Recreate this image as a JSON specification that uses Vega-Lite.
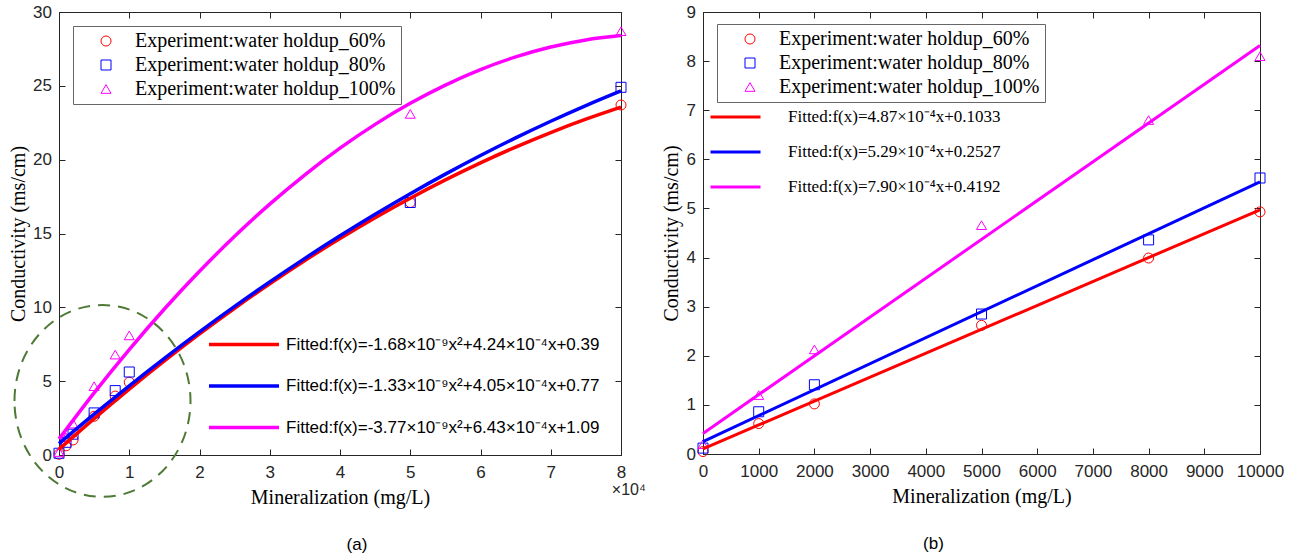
{
  "$schema": "https://vega.github.io/schema/vega-lite/v6.json",
  "padding": {"left": 7, "top": 2, "right": 5, "bottom": 0},
  "background": "white",
  "spacing": 14,
  "resolve": {
    "scale": {"color": "independent", "stroke": "independent", "shape": "independent"},
    "legend": {"color": "independent", "stroke": "independent", "shape": "independent"}
  },
  "datasets": {
    "pts": [
      {"x": 0, "y": 0.05, "s": "Experiment:water holdup_60%"},
      {"x": 1000, "y": 0.62, "s": "Experiment:water holdup_60%"},
      {"x": 2000, "y": 1.02, "s": "Experiment:water holdup_60%"},
      {"x": 5000, "y": 2.62, "s": "Experiment:water holdup_60%"},
      {"x": 8000, "y": 3.99, "s": "Experiment:water holdup_60%"},
      {"x": 10000, "y": 4.93, "s": "Experiment:water holdup_60%"},
      {"x": 50000, "y": 17.1, "s": "Experiment:water holdup_60%"},
      {"x": 80000, "y": 23.7, "s": "Experiment:water holdup_60%"},
      {"x": 0, "y": 0.12, "s": "Experiment:water holdup_80%"},
      {"x": 1000, "y": 0.86, "s": "Experiment:water holdup_80%"},
      {"x": 2000, "y": 1.41, "s": "Experiment:water holdup_80%"},
      {"x": 5000, "y": 2.85, "s": "Experiment:water holdup_80%"},
      {"x": 8000, "y": 4.36, "s": "Experiment:water holdup_80%"},
      {"x": 10000, "y": 5.62, "s": "Experiment:water holdup_80%"},
      {"x": 50000, "y": 17.1, "s": "Experiment:water holdup_80%"},
      {"x": 80000, "y": 24.9, "s": "Experiment:water holdup_80%"},
      {"x": 0, "y": 0.2, "s": "Experiment:water holdup_100%"},
      {"x": 1000, "y": 1.2, "s": "Experiment:water holdup_100%"},
      {"x": 2000, "y": 2.13, "s": "Experiment:water holdup_100%"},
      {"x": 5000, "y": 4.66, "s": "Experiment:water holdup_100%"},
      {"x": 8000, "y": 6.8, "s": "Experiment:water holdup_100%"},
      {"x": 10000, "y": 8.1, "s": "Experiment:water holdup_100%"},
      {"x": 50000, "y": 23.1, "s": "Experiment:water holdup_100%"},
      {"x": 80000, "y": 28.7, "s": "Experiment:water holdup_100%"}
    ],
    "fitL": [
      {"x": 0, "y": 0.39, "f": "Fitted:f(x)=-1.68×10⁻⁹x²+4.24×10⁻⁴x+0.39"},
      {"x": 5000, "y": 2.468, "f": "Fitted:f(x)=-1.68×10⁻⁹x²+4.24×10⁻⁴x+0.39"},
      {"x": 10000, "y": 4.462, "f": "Fitted:f(x)=-1.68×10⁻⁹x²+4.24×10⁻⁴x+0.39"},
      {"x": 15000, "y": 6.372, "f": "Fitted:f(x)=-1.68×10⁻⁹x²+4.24×10⁻⁴x+0.39"},
      {"x": 20000, "y": 8.198, "f": "Fitted:f(x)=-1.68×10⁻⁹x²+4.24×10⁻⁴x+0.39"},
      {"x": 25000, "y": 9.94, "f": "Fitted:f(x)=-1.68×10⁻⁹x²+4.24×10⁻⁴x+0.39"},
      {"x": 30000, "y": 11.598, "f": "Fitted:f(x)=-1.68×10⁻⁹x²+4.24×10⁻⁴x+0.39"},
      {"x": 35000, "y": 13.172, "f": "Fitted:f(x)=-1.68×10⁻⁹x²+4.24×10⁻⁴x+0.39"},
      {"x": 40000, "y": 14.662, "f": "Fitted:f(x)=-1.68×10⁻⁹x²+4.24×10⁻⁴x+0.39"},
      {"x": 45000, "y": 16.068, "f": "Fitted:f(x)=-1.68×10⁻⁹x²+4.24×10⁻⁴x+0.39"},
      {"x": 50000, "y": 17.39, "f": "Fitted:f(x)=-1.68×10⁻⁹x²+4.24×10⁻⁴x+0.39"},
      {"x": 55000, "y": 18.628, "f": "Fitted:f(x)=-1.68×10⁻⁹x²+4.24×10⁻⁴x+0.39"},
      {"x": 60000, "y": 19.782, "f": "Fitted:f(x)=-1.68×10⁻⁹x²+4.24×10⁻⁴x+0.39"},
      {"x": 65000, "y": 20.852, "f": "Fitted:f(x)=-1.68×10⁻⁹x²+4.24×10⁻⁴x+0.39"},
      {"x": 70000, "y": 21.838, "f": "Fitted:f(x)=-1.68×10⁻⁹x²+4.24×10⁻⁴x+0.39"},
      {"x": 75000, "y": 22.74, "f": "Fitted:f(x)=-1.68×10⁻⁹x²+4.24×10⁻⁴x+0.39"},
      {"x": 80000, "y": 23.558, "f": "Fitted:f(x)=-1.68×10⁻⁹x²+4.24×10⁻⁴x+0.39"},
      {"x": 0, "y": 0.77, "f": "Fitted:f(x)=-1.33×10⁻⁹x²+4.05×10⁻⁴x+0.77"},
      {"x": 5000, "y": 2.762, "f": "Fitted:f(x)=-1.33×10⁻⁹x²+4.05×10⁻⁴x+0.77"},
      {"x": 10000, "y": 4.687, "f": "Fitted:f(x)=-1.33×10⁻⁹x²+4.05×10⁻⁴x+0.77"},
      {"x": 15000, "y": 6.546, "f": "Fitted:f(x)=-1.33×10⁻⁹x²+4.05×10⁻⁴x+0.77"},
      {"x": 20000, "y": 8.338, "f": "Fitted:f(x)=-1.33×10⁻⁹x²+4.05×10⁻⁴x+0.77"},
      {"x": 25000, "y": 10.064, "f": "Fitted:f(x)=-1.33×10⁻⁹x²+4.05×10⁻⁴x+0.77"},
      {"x": 30000, "y": 11.723, "f": "Fitted:f(x)=-1.33×10⁻⁹x²+4.05×10⁻⁴x+0.77"},
      {"x": 35000, "y": 13.316, "f": "Fitted:f(x)=-1.33×10⁻⁹x²+4.05×10⁻⁴x+0.77"},
      {"x": 40000, "y": 14.842, "f": "Fitted:f(x)=-1.33×10⁻⁹x²+4.05×10⁻⁴x+0.77"},
      {"x": 45000, "y": 16.302, "f": "Fitted:f(x)=-1.33×10⁻⁹x²+4.05×10⁻⁴x+0.77"},
      {"x": 50000, "y": 17.695, "f": "Fitted:f(x)=-1.33×10⁻⁹x²+4.05×10⁻⁴x+0.77"},
      {"x": 55000, "y": 19.022, "f": "Fitted:f(x)=-1.33×10⁻⁹x²+4.05×10⁻⁴x+0.77"},
      {"x": 60000, "y": 20.282, "f": "Fitted:f(x)=-1.33×10⁻⁹x²+4.05×10⁻⁴x+0.77"},
      {"x": 65000, "y": 21.476, "f": "Fitted:f(x)=-1.33×10⁻⁹x²+4.05×10⁻⁴x+0.77"},
      {"x": 70000, "y": 22.603, "f": "Fitted:f(x)=-1.33×10⁻⁹x²+4.05×10⁻⁴x+0.77"},
      {"x": 75000, "y": 23.664, "f": "Fitted:f(x)=-1.33×10⁻⁹x²+4.05×10⁻⁴x+0.77"},
      {"x": 80000, "y": 24.658, "f": "Fitted:f(x)=-1.33×10⁻⁹x²+4.05×10⁻⁴x+0.77"},
      {"x": 0, "y": 1.09, "f": "Fitted:f(x)=-3.77×10⁻⁹x²+6.43×10⁻⁴x+1.09"},
      {"x": 5000, "y": 4.211, "f": "Fitted:f(x)=-3.77×10⁻⁹x²+6.43×10⁻⁴x+1.09"},
      {"x": 10000, "y": 7.143, "f": "Fitted:f(x)=-3.77×10⁻⁹x²+6.43×10⁻⁴x+1.09"},
      {"x": 15000, "y": 9.887, "f": "Fitted:f(x)=-3.77×10⁻⁹x²+6.43×10⁻⁴x+1.09"},
      {"x": 20000, "y": 12.442, "f": "Fitted:f(x)=-3.77×10⁻⁹x²+6.43×10⁻⁴x+1.09"},
      {"x": 25000, "y": 14.809, "f": "Fitted:f(x)=-3.77×10⁻⁹x²+6.43×10⁻⁴x+1.09"},
      {"x": 30000, "y": 16.987, "f": "Fitted:f(x)=-3.77×10⁻⁹x²+6.43×10⁻⁴x+1.09"},
      {"x": 35000, "y": 18.977, "f": "Fitted:f(x)=-3.77×10⁻⁹x²+6.43×10⁻⁴x+1.09"},
      {"x": 40000, "y": 20.778, "f": "Fitted:f(x)=-3.77×10⁻⁹x²+6.43×10⁻⁴x+1.09"},
      {"x": 45000, "y": 22.391, "f": "Fitted:f(x)=-3.77×10⁻⁹x²+6.43×10⁻⁴x+1.09"},
      {"x": 50000, "y": 23.815, "f": "Fitted:f(x)=-3.77×10⁻⁹x²+6.43×10⁻⁴x+1.09"},
      {"x": 55000, "y": 25.051, "f": "Fitted:f(x)=-3.77×10⁻⁹x²+6.43×10⁻⁴x+1.09"},
      {"x": 60000, "y": 26.098, "f": "Fitted:f(x)=-3.77×10⁻⁹x²+6.43×10⁻⁴x+1.09"},
      {"x": 65000, "y": 26.957, "f": "Fitted:f(x)=-3.77×10⁻⁹x²+6.43×10⁻⁴x+1.09"},
      {"x": 70000, "y": 27.627, "f": "Fitted:f(x)=-3.77×10⁻⁹x²+6.43×10⁻⁴x+1.09"},
      {"x": 75000, "y": 28.109, "f": "Fitted:f(x)=-3.77×10⁻⁹x²+6.43×10⁻⁴x+1.09"},
      {"x": 80000, "y": 28.402, "f": "Fitted:f(x)=-3.77×10⁻⁹x²+6.43×10⁻⁴x+1.09"}
    ],
    "fitR": [
      {"x": 0, "y": 0.1033, "f": "Fitted:f(x)=4.87×10⁻⁴x+0.1033"},
      {"x": 10000, "y": 4.9733, "f": "Fitted:f(x)=4.87×10⁻⁴x+0.1033"},
      {"x": 0, "y": 0.2527, "f": "Fitted:f(x)=5.29×10⁻⁴x+0.2527"},
      {"x": 10000, "y": 5.5427, "f": "Fitted:f(x)=5.29×10⁻⁴x+0.2527"},
      {"x": 0, "y": 0.4192, "f": "Fitted:f(x)=7.90×10⁻⁴x+0.4192"},
      {"x": 10000, "y": 8.3192, "f": "Fitted:f(x)=7.90×10⁻⁴x+0.4192"}
    ]
  },
  "hconcat": [
    {
      "width": 562,
      "height": 443,
      "title": {"text": "(a)", "orient": "bottom", "font": "Liberation Sans", "fontSize": 17, "fontWeight": "normal", "color": "#000000", "dx": 17, "offset": 30},
      "layer": [
        {
          "data": {"name": "pts"},
          "mark": {"type": "point", "filled": false, "size": 100, "strokeWidth": 1, "opacity": 1},
          "encoding": {
            "x": {"field": "x", "type": "quantitative", "scale": {"domain": [0, 80000], "nice": false, "zero": false},
                  "axis": {"orient": "bottom", "values": [0, 10000, 20000, 30000, 40000, 50000, 60000, 70000, 80000], "labelExpr": "datum.value/10000", "title": "Mineralization (mg/L)", "titlePadding": 7, "labelPadding": 15}},
            "y": {"field": "y", "type": "quantitative", "scale": {"domain": [0, 30], "nice": false, "zero": false},
                  "axis": {"orient": "left", "values": [0, 5, 10, 15, 20, 25, 30], "title": "Conductivity (ms/cm)", "titlePadding": 4, "labelPadding": 13.6}},
            "stroke": {"field": "s", "type": "nominal",
                      "scale": {"domain": ["Experiment:water holdup_60%", "Experiment:water holdup_80%", "Experiment:water holdup_100%"], "range": ["#FF0000", "#0000FF", "#FF00FF"]},
                      "legend": {"title": null, "orient": "none", "legendX": 14, "legendY": 14, "strokeColor": "#666666", "fillColor": "white", "padding": 5, "labelFont": "Liberation Serif", "labelFontSize": 20, "labelColor": "#000000", "labelLimit": 0, "rowPadding": 4, "symbolOffset": 18, "labelOffset": 19, "symbolSize": 100, "symbolStrokeWidth": 1}},
            "shape": {"field": "s", "type": "nominal",
                      "scale": {"domain": ["Experiment:water holdup_60%", "Experiment:water holdup_80%", "Experiment:water holdup_100%"], "range": ["circle", "square", "triangle-up"]},
                      "legend": {"title": null, "orient": "none", "legendX": 14, "legendY": 14, "strokeColor": "#666666", "fillColor": "white", "padding": 5, "labelFont": "Liberation Serif", "labelFontSize": 20, "labelColor": "#000000", "labelLimit": 0, "rowPadding": 4, "symbolOffset": 18, "labelOffset": 19, "symbolSize": 100, "symbolStrokeWidth": 1}}
          }
        },
        {
          "data": {"name": "fitL"},
          "mark": {"type": "line", "strokeWidth": 3.5, "interpolate": "monotone"},
          "encoding": {
            "x": {"field": "x", "type": "quantitative", "scale": {"domain": [0, 80000], "nice": false, "zero": false},
                  "axis": {"orient": "top", "values": [0, 10000, 20000, 30000, 40000, 50000, 60000, 70000, 80000], "labels": false, "domain": false, "title": null}},
            "y": {"field": "y", "type": "quantitative", "scale": {"domain": [0, 30], "nice": false, "zero": false},
                  "axis": {"orient": "right", "values": [0, 5, 10, 15, 20, 25, 30], "labels": false, "domain": false, "title": null}},
            "color": {"field": "f", "type": "nominal",
                      "scale": {"domain": ["Fitted:f(x)=-1.68×10⁻⁹x²+4.24×10⁻⁴x+0.39", "Fitted:f(x)=-1.33×10⁻⁹x²+4.05×10⁻⁴x+0.77", "Fitted:f(x)=-3.77×10⁻⁹x²+6.43×10⁻⁴x+1.09"], "range": ["#FF0000", "#0000FF", "#FF00FF"]},
                      "legend": {"title": null, "orient": "none", "legendX": 165.5, "legendY": 313, "symbolType": "M-2,0H2", "symbolSize": 1225, "symbolStrokeWidth": 3.5, "labelFont": "Liberation Sans", "labelFontSize": 17, "labelColor": "#000000", "labelOffset": 22.5, "rowPadding": 13.5, "labelLimit": 0, "padding": 0}}
          }
        },
        {
          "data": {"values": [{}]},
          "mark": {"type": "text", "text": "×10⁴", "align": "left", "baseline": "middle", "font": "Liberation Sans", "fontSize": 16, "color": "#262626", "clip": false},
          "encoding": {
            "x": {"datum": 78700, "type": "quantitative", "scale": {"domain": [0, 80000], "nice": false, "zero": false}, "axis": null},
            "y": {"datum": -2.4, "type": "quantitative", "scale": {"domain": [0, 30], "nice": false, "zero": false}, "axis": null}
          }
        },
        {
          "data": {"values": [{}]},
          "mark": {"type": "point", "shape": "M-1,0A1,1.09,0,1,1,1,0A1,1.09,0,1,1,-1,0Z", "size": 30976, "filled": false, "stroke": "#4E7A36", "strokeWidth": 2, "strokeDash": [12, 8], "opacity": 1, "clip": false},
          "encoding": {
            "x": {"datum": 6190, "type": "quantitative", "scale": {"domain": [0, 80000], "nice": false, "zero": false}, "axis": null},
            "y": {"datum": 3.66, "type": "quantitative", "scale": {"domain": [0, 30], "nice": false, "zero": false}, "axis": null}
          }
        }
      ]
    },
    {
      "width": 557,
      "height": 442,
      "title": {"text": "(b)", "orient": "bottom", "font": "Liberation Sans", "fontSize": 17, "fontWeight": "normal", "color": "#000000", "dx": -48, "offset": 30},
      "layer": [
        {
          "data": {"name": "pts"},
          "transform": [{"filter": "datum.x <= 10000"}],
          "mark": {"type": "point", "filled": false, "size": 100, "strokeWidth": 1, "opacity": 1},
          "encoding": {
            "x": {"field": "x", "type": "quantitative", "scale": {"domain": [0, 10000], "nice": false, "zero": false},
                  "axis": {"orient": "bottom", "values": [0, 1000, 2000, 3000, 4000, 5000, 6000, 7000, 8000, 9000, 10000], "format": "d", "title": "Mineralization (mg/L)", "titlePadding": 7, "labelPadding": 15}},
            "y": {"field": "y", "type": "quantitative", "scale": {"domain": [0, 9], "nice": false, "zero": false},
                  "axis": {"orient": "left", "values": [0, 1, 2, 3, 4, 5, 6, 7, 8, 9], "title": "Conductivity (ms/cm)", "titlePadding": 4, "labelPadding": 13.6}},
            "stroke": {"field": "s", "type": "nominal",
                      "scale": {"domain": ["Experiment:water holdup_60%", "Experiment:water holdup_80%", "Experiment:water holdup_100%"], "range": ["#FF0000", "#0000FF", "#FF00FF"]},
                      "legend": {"title": null, "orient": "none", "legendX": 14, "legendY": 12, "strokeColor": "#666666", "fillColor": "white", "padding": 5, "labelFont": "Liberation Serif", "labelFontSize": 20, "labelColor": "#000000", "labelLimit": 0, "rowPadding": 4, "symbolOffset": 18, "labelOffset": 19, "symbolSize": 100, "symbolStrokeWidth": 1}},
            "shape": {"field": "s", "type": "nominal",
                      "scale": {"domain": ["Experiment:water holdup_60%", "Experiment:water holdup_80%", "Experiment:water holdup_100%"], "range": ["circle", "square", "triangle-up"]},
                      "legend": {"title": null, "orient": "none", "legendX": 14, "legendY": 12, "strokeColor": "#666666", "fillColor": "white", "padding": 5, "labelFont": "Liberation Serif", "labelFontSize": 20, "labelColor": "#000000", "labelLimit": 0, "rowPadding": 4, "symbolOffset": 18, "labelOffset": 19, "symbolSize": 100, "symbolStrokeWidth": 1}}
          }
        },
        {
          "data": {"name": "fitR"},
          "mark": {"type": "line", "strokeWidth": 3},
          "encoding": {
            "x": {"field": "x", "type": "quantitative", "scale": {"domain": [0, 10000], "nice": false, "zero": false},
                  "axis": {"orient": "top", "values": [0, 1000, 2000, 3000, 4000, 5000, 6000, 7000, 8000, 9000, 10000], "labels": false, "domain": false, "title": null}},
            "y": {"field": "y", "type": "quantitative", "scale": {"domain": [0, 9], "nice": false, "zero": false},
                  "axis": {"orient": "right", "values": [0, 1, 2, 3, 4, 5, 6, 7, 8, 9], "labels": false, "domain": false, "title": null}},
            "color": {"field": "f", "type": "nominal",
                      "scale": {"domain": ["Fitted:f(x)=4.87×10⁻⁴x+0.1033", "Fitted:f(x)=5.29×10⁻⁴x+0.2527", "Fitted:f(x)=7.90×10⁻⁴x+0.4192"], "range": ["#FF0000", "#0000FF", "#FF00FF"]},
                      "legend": {"title": null, "orient": "none", "legendX": 6, "legendY": 78.5, "symbolType": "stroke", "symbolSize": 2500, "symbolStrokeWidth": 3, "labelFont": "Liberation Serif", "labelFontSize": 17, "labelColor": "#000000", "labelOffset": 26, "rowPadding": 0, "labelLimit": 0, "padding": 0}}
          }
        }
      ]
    }
  ],
  "config": {
    "view": {"stroke": "#262626", "strokeWidth": 1},
    "axis": {"labelFont": "Liberation Sans", "labelFontSize": 17, "labelColor": "#262626", "titleFont": "Liberation Serif", "titleFontSize": 20, "titleFontWeight": "normal", "titleColor": "#000000", "domainColor": "#262626", "tickColor": "#262626", "grid": false, "tickSize": -6, "labelPadding": 8, "labelFlush": false, "labelOverlap": false}
  }
}
